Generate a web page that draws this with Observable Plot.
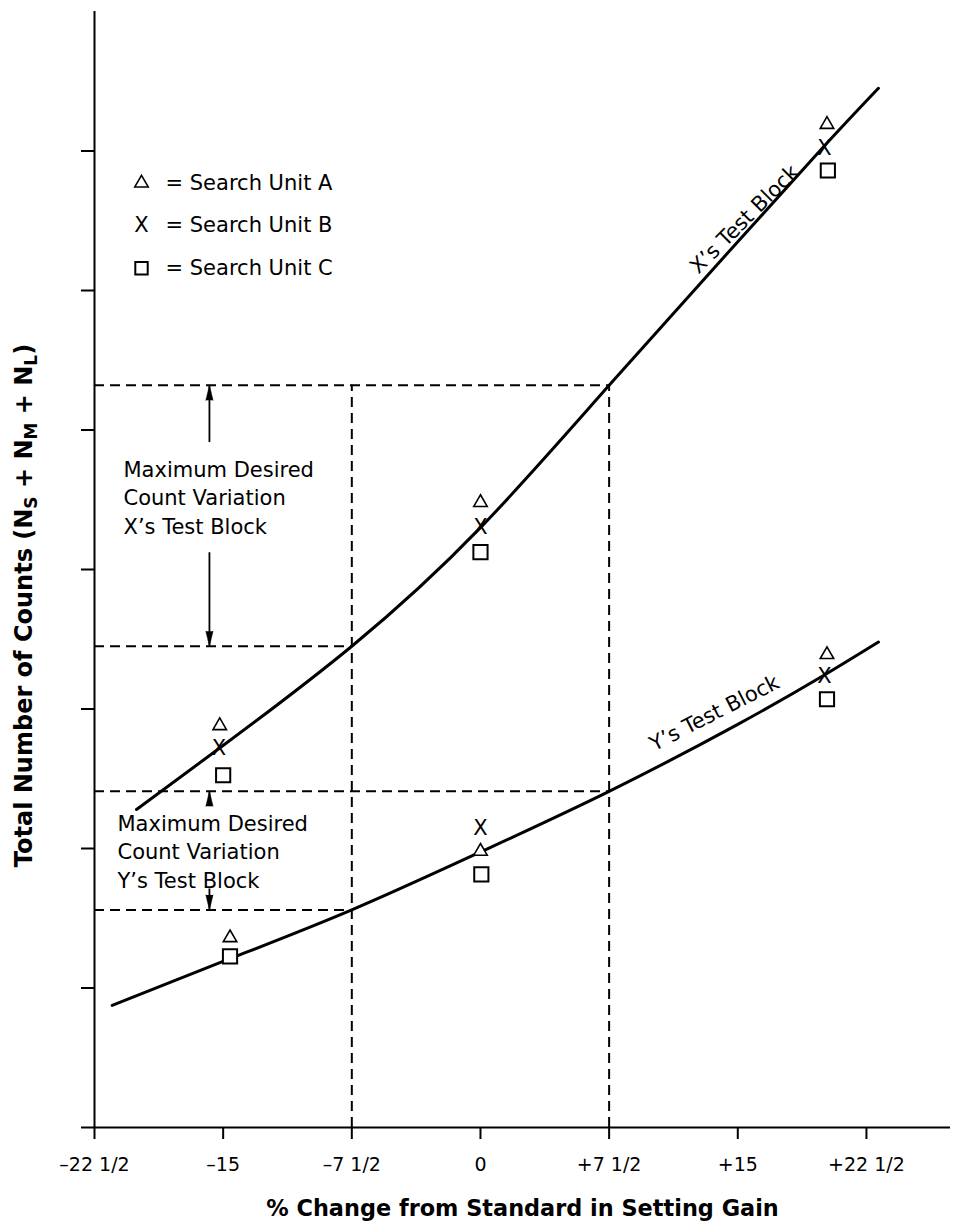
<!DOCTYPE html>
<html><head><meta charset="utf-8">
<script src="https://cdn.jsdelivr.net/npm/d3@7"></script>
<script src="https://cdn.jsdelivr.net/npm/@observablehq/plot@0.6"></script>
<style>body{margin:0;background:#fff;}</style>
</head><body><div id="chart"></div>
<script>
// Axis ticks
const xTicks = [-22.5, -15, -7.5, 0, 7.5, 15, 22.5];
const xTickLabels = ["–22 1/2", "–15", "–7 1/2", "0", "+7 1/2", "+15", "+22 1/2"];
const yTicks = [0, 1, 2, 3, 4, 5, 6, 7];

// Curves
const curveXx = [-20.05, -15.2, -7.5, 0, 7.5, 15, 20, 23.2];
const curveXy = [2.28, 2.72, 3.45, 4.30, 5.32, 6.35, 7.03, 7.45];
const curveYx = [-21.47, -14.6, -7.5, 0, 7.5, 15, 20, 23.2];
const curveYy = [0.875, 1.21, 1.56, 1.975, 2.41, 2.89, 3.24, 3.48];

// Search unit readings
const unitAx = [-15.2, 0, 20.2, -14.6, 0, 20.2];
const unitAy = [2.88, 4.48, 7.19, 1.36, 1.98, 3.39];
const unitBx = [-15.25, 0, 20.05, 0, 20.05];
const unitBy = [2.72, 4.30, 7.02, 2.145, 3.235];
const unitCx = [-15.0, 0, 20.25, -14.6, 0.05, 20.2];
const unitCy = [2.525, 4.125, 6.86, 1.227, 1.815, 3.07];

// Dashed reference lines
const hDashY = [5.32, 3.45, 2.41, 1.56];
const hDashX2 = [7.5, -7.5, 7.5, -7.5];
const vDashX = [-7.5, 7.5];
const vDashTop = [5.32, 5.32];

// Arrows (shaft start, tip)
const arrowX = [-15.8, -15.8, -15.8, -15.8];
const arrowFrom = [4.91, 4.12, 2.30, 1.71];
const arrowTo = [5.32, 3.45, 2.41, 1.56];
const arrowDir = [0, 180, 0, 180];

// Legend
const legendLabels = ["= Search Unit A", "= Search Unit B", "= Search Unit C"];
const legendY = [6.77, 6.47, 6.16];
const legendSymX = -19.76;
const legendTextX = -18.36;

// Annotations
const noteText = ["Maximum Desired\nCount Variation\nX’s Test Block", "Maximum Desired\nCount Variation\nY’s Test Block"];
const noteX = [-20.81, -21.16];
const noteY = [4.527, 1.987];
const curveLabels = ["X’s Test Block", "Y’s Test Block"];
const curveLabelX = [15.39, 13.64];
const curveLabelY = [6.51, 2.97];
const curveLabelRot = [-45, -27];

const zip = (xs, ys) => xs.map((x, i) => ({x, y: ys[i]}));
const labelMap = new Map(xTicks.map((t, i) => [t, xTickLabels[i]]));
const font = "DejaVu Sans";
const hasSpike = typeof Plot.spike === "function";
const arrowData = arrowX.map((x, i) => ({x, y1: arrowFrom[i], y2: arrowTo[i], r: arrowDir[i]}));

const arrowMarks = hasSpike ? [
  Plot.ruleX(arrowData, {x: "x", y1: "y1", y2: "y2", stroke: "black", strokeWidth: 1.8}),
  Plot.vector(arrowData, {x: "x", y: "y2", rotate: "r", anchor: "end", shape: "spike", length: 15, r: 3.6, fill: "black", stroke: "black", strokeWidth: 0.5})
] : [
  Plot.arrow(arrowData, {x1: "x", x2: "x", y1: "y1", y2: "y2", stroke: "black", strokeWidth: 1.8, headLength: 13, headAngle: 25})
];

const plot = Plot.plot({
  width: 956, height: 1222,
  marginLeft: 94, marginRight: 6, marginTop: 11, marginBottom: 95,
  x: {domain: [-22.5, 27.4]},
  y: {domain: [0, 8]},
  style: {fontFamily: font, background: "white", color: "black"},
  marks: [
    Plot.ruleY(hDashY.map((y, i) => ({y, x2: hDashX2[i]})), {y: "y", x1: -22.5, x2: "x2", stroke: "black", strokeWidth: 2, strokeDasharray: "10,6"}),
    Plot.ruleX(vDashX.map((x, i) => ({x, y2: vDashTop[i]})), {x: "x", y1: 0, y2: "y2", stroke: "black", strokeWidth: 2, strokeDasharray: "10,6"}),
    Plot.line(zip(curveXx, curveXy), {x: "x", y: "y", curve: "natural", stroke: "black", strokeWidth: 3}),
    Plot.line(zip(curveYx, curveYy), {x: "x", y: "y", curve: "natural", stroke: "black", strokeWidth: 3}),
    ...arrowMarks,
    Plot.ruleX([-22.5], {stroke: "black", strokeWidth: 2}),
    Plot.ruleY([0], {stroke: "black", strokeWidth: 2}),
    Plot.axisY({ticks: yTicks, tickSize: 13, tickFormat: () => "", label: null, strokeWidth: 2}),
    Plot.axisX({ticks: xTicks, tickSize: 12, tickPadding: 18, tickFormat: d => labelMap.get(d), fontSize: 19, label: null, strokeWidth: 2}),
    // markers
    Plot.dot(zip(unitAx, unitAy), {x: "x", y: "y", symbol: "triangle", r: 5, stroke: "black", strokeWidth: 1.6, fill: "white"}),
    Plot.dot(zip(unitCx, unitCy), {x: "x", y: "y", symbol: "square", r: 8, stroke: "black", strokeWidth: 2, fill: "white"}),
    Plot.text(zip(unitBx, unitBy), {x: "x", y: "y", text: () => "X", fontSize: 21, lineAnchor: "middle", fill: "black"}),
    // legend
    Plot.dot([{x: legendSymX, y: legendY[0]}], {x: "x", y: "y", symbol: "triangle", r: 5, stroke: "black", strokeWidth: 1.6}),
    Plot.text([{x: legendSymX, y: legendY[1]}], {x: "x", y: "y", text: () => "X", fontSize: 21, lineAnchor: "middle"}),
    Plot.dot([{x: legendSymX, y: legendY[2]}], {x: "x", y: "y", symbol: "square", r: 7, stroke: "black", strokeWidth: 2}),
    Plot.text(legendLabels.map((t, i) => ({t, y: legendY[i]})), {x: legendTextX, y: "y", text: "t", textAnchor: "start", lineAnchor: "middle", fontSize: 21}),
    // annotations
    Plot.text(noteText.map((t, i) => ({t, x: noteX[i], y: noteY[i]})), {x: "x", y: "y", text: "t", textAnchor: "start", lineAnchor: "middle", lineHeight: 1.36, fontSize: 21}),
    Plot.text(curveLabels.map((t, i) => ({t, x: curveLabelX[i], y: curveLabelY[i], r: curveLabelRot[i]})), {x: "x", y: "y", text: "t", rotate: "r", lineAnchor: "middle", fontSize: 21}),
    // axis titles
    Plot.text(["% Change from Standard in Setting Gain"], {frameAnchor: "bottom", dy: 81, fontSize: 22.4, fontWeight: "bold", lineAnchor: "middle"}),
    Plot.text(["Total Number of Counts (NS + NM + NL)"], {frameAnchor: "left", textAnchor: "middle", dx: -70, dy: 36, rotate: -90, fontSize: 24, fontWeight: "bold", lineAnchor: "middle"})
  ]
});

// subscripts for the y label
plot.querySelectorAll("text").forEach(t => {
  if (t.textContent.startsWith("Total Number")) {
    const ns = "http://www.w3.org/2000/svg";
    t.textContent = "";
    const parts = [["Total Number of Counts (N", 0], ["S", 1], [" + N", -1], ["M", 1], [" + N", -1], ["L", 1], [")", -1]];
    parts.forEach(([s, shift]) => {
      const sp = document.createElementNS(ns, "tspan");
      sp.textContent = s;
      if (shift === 1) { sp.setAttribute("dy", "5"); sp.setAttribute("font-size", "17"); }
      if (shift === -1) { sp.setAttribute("dy", "-5"); }
      t.appendChild(sp);
    });
  }
});
document.getElementById("chart").appendChild(plot);
</script>
</body></html>
